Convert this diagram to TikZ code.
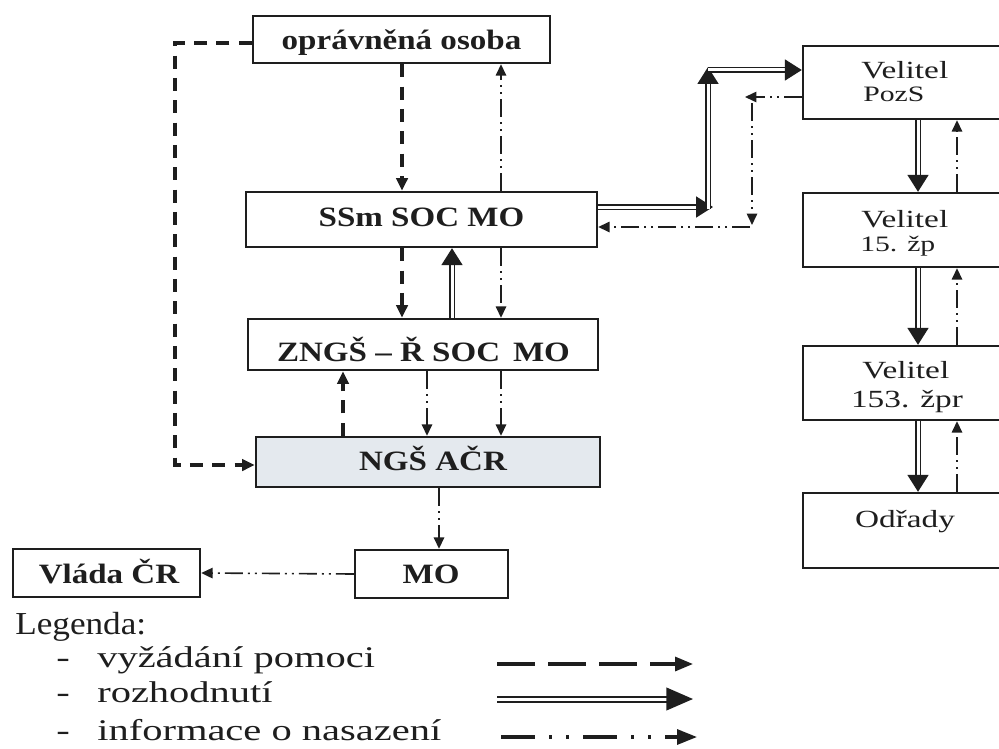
\documentclass[tikz,border=0pt]{standalone}
\usepackage{fontspec}
\setmainfont{Liberation Serif}
\newfontfamily\fontBX[FakeStretch=1.18]{Liberation Serif}
\newfontfamily\fontRX[FakeStretch=1.35]{Liberation Serif}
\newfontfamily\fontLX[FakeStretch=1.1]{Liberation Serif}
\usetikzlibrary{arrows.meta}
\definecolor{ink}{RGB}{30,30,30}
\definecolor{shade}{RGB}{228,233,238}
\newcommand\bxfont{\fontBX\bfseries\fontsize{21pt}{21pt}\selectfont}
\newcommand\vfont{\fontRX\fontsize{18.5pt}{18.5pt}\selectfont}
\newcommand\sfontR{\fontRX\fontsize{16.5pt}{16.5pt}\selectfont}
\newcommand\lgfont{\fontLX\fontsize{24pt}{24pt}\selectfont}
\newcommand\itfont{\fontRX\fontsize{22.5pt}{22.5pt}\selectfont}
\begin{document}
\begin{tikzpicture}[x=0.75pt,y=-0.75pt,
  frame/.style={draw=ink, line width=1.8pt, inner sep=0pt},
  lbl/.style={anchor=base, inner sep=0pt, text=ink},
  lblw/.style={anchor=base west, inner sep=0pt, text=ink},
  req/.style={draw=ink, line width=2.6pt, dash pattern=on 9.75pt off 7pt, -{Triangle[length=9.5pt,width=8.5pt]}},
  dec/.style={draw=ink, double=white, double distance=2.25pt, line width=1.4pt, -{Triangle[length=12.75pt,width=15.75pt]}},
  info/.style={draw=ink, line width=1.2pt, dash pattern=on 13.5pt off 3.75pt on 1.5pt off 3.75pt on 1.5pt off 3.75pt, -{Triangle[length=8.5pt,width=7.75pt]}},
  lreq/.style={draw=ink, line width=2.4pt, dash pattern=on 28.5pt off 9.75pt, -{Triangle[length=13.5pt,width=10.5pt]}},
  ldec/.style={draw=ink, double=white, double distance=2.25pt, line width=1.5pt, -{Triangle[length=20pt,width=17pt]}},
  linfo/.style={draw=ink, line width=2.4pt, dash pattern=on 25.5pt off 10.5pt on 2.25pt off 10.5pt on 2.25pt off 10.5pt, -{Triangle[length=15pt,width=11.25pt]}}
]
\useasboundingbox (0,0) rectangle (999,749);
\fill[white] (0,0) rectangle (999,749);

% boxes
\node[frame, minimum width=222.75pt, minimum height=35.25pt] (opr) at (401.5,39.5) {};
\node[frame, minimum width=263.25pt, minimum height=41.25pt] (ssm) at (421.5,219.5) {};
\node[frame, minimum width=262.5pt, minimum height=38.25pt] (zngs) at (423,344.5) {};
\node[frame, fill=shade, minimum width=258pt, minimum height=37.5pt] (ngs) at (428,462) {};
\node[frame, minimum width=114.75pt, minimum height=36pt] (mo) at (431.5,574) {};
\node[frame, minimum width=140.25pt, minimum height=36pt] (vlada) at (106.5,573) {};
\node[frame, minimum width=153pt, minimum height=54.75pt] (pozs) at (905,82.5) {};
\node[frame, minimum width=153pt, minimum height=55.5pt] (z15) at (905,230) {};
\node[frame, minimum width=153pt, minimum height=55.5pt] (z153) at (905,383) {};
\node[frame, minimum width=153pt, minimum height=56.25pt] (odr) at (905,530.5) {};

% texts
\node[lbl, font=\bxfont] (toprt) at (401.5,50) {oprávněná osoba};
\node[lbl, font=\bxfont] (tssm) at (421.5,226) {SSm SOC MO};
\node[lbl, font=\bxfont] (tzngs) at (423.5,361) {ZNGŠ – Ř SOC\, MO};
\node[lbl, font=\bxfont] (tngs) at (433,470) {NGŠ AČR};
\node[lbl, font=\bxfont] (tmo) at (431,583) {MO};
\node[lbl, font=\bxfont] (tvlada) at (109,583) {Vláda ČR};
\node[lblw, font=\vfont] (tv1) at (861,79) {Velitel};
\node[lblw, font=\sfontR] (tv1b) at (863,102) {PozS};
\node[lblw, font=\vfont] (tv2) at (861,227) {Velitel};
\node[lblw, font=\sfontR] (tv2b) at (860,251) {15. žp};
\node[lblw, font=\vfont] (tv3) at (862,378) {Velitel};
\node[lbl, font=\vfont] (tv3b) at (907,407) {153. žpr};
\node[lbl, font=\vfont] (todr) at (905,527) {Odřady};

% legend
\node[lblw, font=\lgfont] (tleg) at (15,634) {Legenda:};
\node[lblw, font=\itfont] (d1) at (56,667) {-};
\node[lblw, font=\itfont] (d2) at (56,702) {-};
\node[lblw, font=\itfont] (d3) at (56,740) {-};
\node[lblw, font=\itfont] (i1) at (97,667) {vyžádání pomoci};
\node[lblw, font=\itfont] (i2) at (97,702) {rozhodnutí};
\node[lblw, font=\itfont] (i3) at (97,740) {informace o nasazení};

% column / row coordinates
\coordinate (X175) at (175,0);
\coordinate (X343) at (343,0);
\coordinate (X402) at (402,0);
\coordinate (X427) at (427,0);
\coordinate (X439) at (439,0);
\coordinate (X452) at (452,0);
\coordinate (X501) at (501,0);
\coordinate (X918) at (918,0);
\coordinate (X957) at (957,0);
\coordinate (Y43) at (0,43);
\coordinate (Y465) at (0,465);
\coordinate (Y227) at (0,227);
\coordinate (Y97) at (0,97);
\coordinate (Y207) at (0,207);
\coordinate (Y70) at (0,70);

% left column arrows
\draw[req] (opr.south -| X402) -- (ssm.north -| X402);
\draw[info] (ssm.north -| X501) -- (opr.south -| X501);
\draw[req] (opr.west |- Y43) -- (X175 |- Y43) -- (X175 |- Y465) -- (ngs.west |- Y465);
\draw[req] (ssm.south -| X402) -- (zngs.north -| X402);
\draw[dec] (zngs.north -| X452) -- (ssm.south -| X452);
\draw[info] (ssm.south -| X501) -- (zngs.north -| X501);
\draw[req] (ngs.north -| X343) -- (zngs.south -| X343);
\draw[info] (zngs.south -| X427) -- (ngs.north -| X427);
\draw[info] (zngs.south -| X501) -- (ngs.north -| X501);
\draw[info] (ngs.south -| X439) -- (mo.north -| X439);
\draw[info] (mo.west) -- (vlada.east);

% to / from Velitel PozS
\coordinate (c1) at (713,207);
\coordinate (c2a) at (708,209);
\coordinate (c2b) at (708,67);
\coordinate (c3) at (708,70);
\draw[dec] (ssm.east |- Y207) -- (c1);
\draw[dec] (c2a) -- (c2b);
\draw[dec] (c3) -- (pozs.west |- Y70);
\coordinate (d1a) at (745,97);
\coordinate (d2a) at (752,103);
\coordinate (d2b) at (752,225);
\coordinate (d3a) at (750,227);
\draw[info] (pozs.west |- Y97) -- (d1a);
\draw[info] (d2a) -- (d2b);
\draw[info] (d3a) -- (ssm.east |- Y227);

% right column
\draw[dec] (pozs.south -| X918) -- (z15.north -| X918);
\draw[info] (z15.north -| X957) -- (pozs.south -| X957);
\draw[dec] (z15.south -| X918) -- (z153.north -| X918);
\draw[info] (z153.north -| X957) -- (z15.south -| X957);
\draw[dec] (z153.south -| X918) -- (odr.north -| X918);
\draw[info] (odr.north -| X957) -- (z153.south -| X957);

% legend arrows
\coordinate (la1) at (497,664); \coordinate (lb1) at (693,664);
\coordinate (la2) at (497,699); \coordinate (lb2) at (693,699);
\coordinate (la3) at (501,737); \coordinate (lb3) at (697,737);
\draw[lreq] (la1) -- (lb1);
\draw[ldec] (la2) -- (lb2);
\draw[linfo] (la3) -- (lb3);
\end{tikzpicture}
\end{document}
